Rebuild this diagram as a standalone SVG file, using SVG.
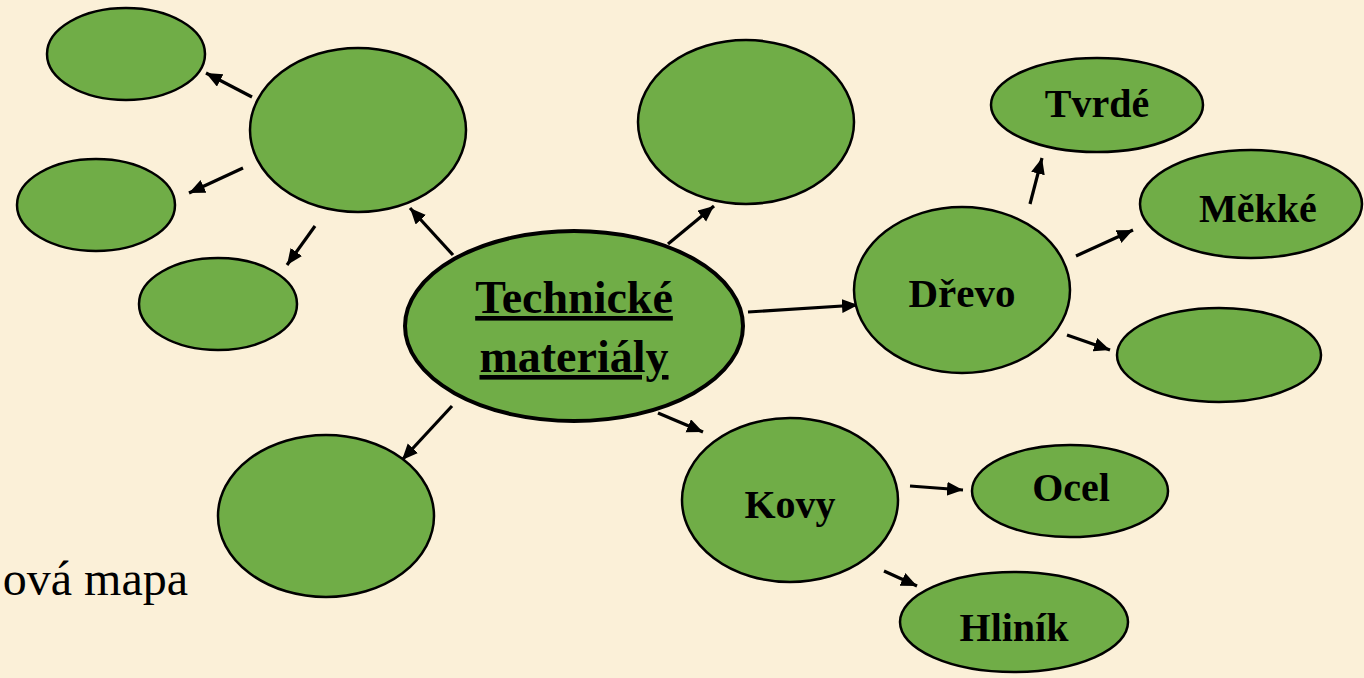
<svg xmlns="http://www.w3.org/2000/svg" width="1364" height="678" viewBox="0 0 1364 678">
<style>
.n{fill:#70AD47;stroke:#000;stroke-width:2.5}
.c{stroke-width:4}
.t{font-family:"Liberation Serif","Times New Roman",serif;font-weight:bold;font-size:40px;fill:#000;text-anchor:middle}
.big{font-size:46px;text-decoration:underline}
.e{stroke:#000;stroke-width:3.2;fill:none;marker-end:url(#ah)}
</style>
<defs>
<marker id="ah" markerUnits="userSpaceOnUse" markerWidth="18" markerHeight="15" refX="16" refY="7" orient="auto"><path d="M0,0 L16,7 L0,14 Z" fill="#000"/></marker>
</defs>
<rect width="1364" height="678" fill="#FBF0D8"/>
<text x="188" y="595" font-family="'Liberation Serif','Times New Roman',serif" font-size="48" text-anchor="end" fill="#000">ová mapa</text>
<g id="connectors">
<line class="e" x1="252" y1="97" x2="206" y2="73"/>
<line class="e" x1="243" y1="168" x2="189" y2="193"/>
<line class="e" x1="315" y1="226" x2="287" y2="265"/>
<line class="e" x1="453" y1="255" x2="410" y2="208"/>
<line class="e" x1="668" y1="244" x2="714" y2="206"/>
<line class="e" x1="748" y1="312" x2="858" y2="305"/>
<line class="e" x1="452" y1="406" x2="402" y2="460"/>
<line class="e" x1="658" y1="413" x2="703" y2="432"/>
<line class="e" x1="1030" y1="204" x2="1042" y2="158"/>
<line class="e" x1="1076" y1="256" x2="1133" y2="230"/>
<line class="e" x1="1067" y1="335" x2="1110" y2="350"/>
<line class="e" x1="910" y1="486" x2="963" y2="490"/>
<line class="e" x1="884" y1="571" x2="917" y2="586"/>
</g>
<g id="n_tl1"><ellipse class="n" cx="126" cy="54" rx="79" ry="46"/></g>
<g id="n_tlbig"><ellipse class="n" cx="358" cy="130" rx="108" ry="82"/></g>
<g id="n_tl2"><ellipse class="n" cx="96" cy="205" rx="79" ry="46"/></g>
<g id="n_tl3"><ellipse class="n" cx="218" cy="304" rx="79" ry="46"/></g>
<g id="n_top"><ellipse class="n" cx="746" cy="122" rx="108" ry="82"/></g>
<g id="n_bl"><ellipse class="n" cx="326" cy="516" rx="108" ry="81"/></g>
<g id="n_center"><ellipse class="n c" cx="574" cy="326" rx="169" ry="95"/>
<text class="t big" x="574" y="313">Technické</text>
<text class="t big" x="574" y="372">materiály</text></g>
<g id="n_drevo"><ellipse class="n" cx="962" cy="290" rx="108" ry="83"/><text class="t" x="962" y="307" style="font-size:41px">Dřevo</text></g>
<g id="n_tvrde"><ellipse class="n" cx="1097" cy="105" rx="106" ry="47"/><text class="t" x="1097" y="117">Tvrdé</text></g>
<g id="n_mekke"><ellipse class="n" cx="1251" cy="204" rx="111" ry="54"/><text class="t" x="1258" y="222">Měkké</text></g>
<g id="n_empty_r"><ellipse class="n" cx="1219" cy="355" rx="102" ry="47"/></g>
<g id="n_kovy"><ellipse class="n" cx="790" cy="500" rx="108" ry="82"/><text class="t" x="790" y="518">Kovy</text></g>
<g id="n_ocel"><ellipse class="n" cx="1070" cy="491" rx="98" ry="46"/><text class="t" x="1071" y="501">Ocel</text></g>
<g id="n_hlinik"><ellipse class="n" cx="1014" cy="622" rx="114" ry="50"/><text class="t" x="1014" y="641">Hliník</text></g>
</svg>
